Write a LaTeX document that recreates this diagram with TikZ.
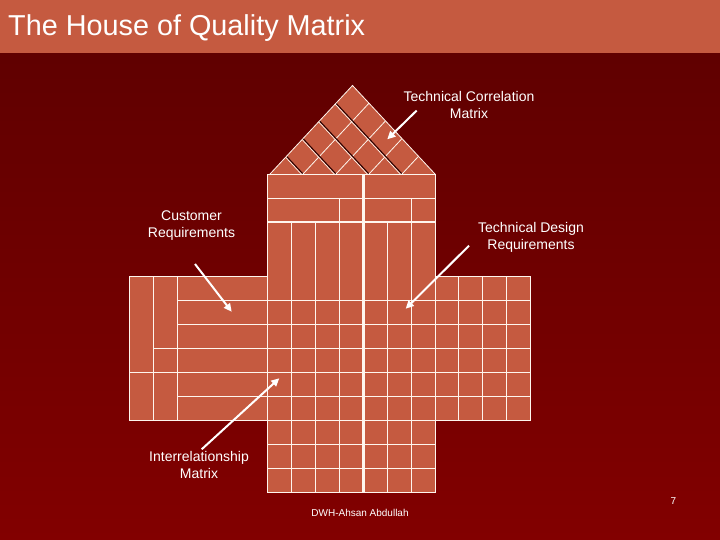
\documentclass[tikz,border=0pt]{standalone}
\usepackage{fontspec}
\setmainfont{Liberation Sans}
\usetikzlibrary{calc,arrows.meta}
\definecolor{bgtop}{HTML}{5C0000}
\definecolor{bgbot}{HTML}{820000}
\definecolor{tile}{HTML}{C55A40}
\definecolor{gridc}{HTML}{FFF6EE}
\definecolor{shadowc}{HTML}{2A0000}
\begin{document}
\begin{tikzpicture}[x=1pt,y=-1pt,
  gridline/.style={draw=gridc, line width=0.9pt},
  thickline/.style={draw=gridc, line width=2.8pt},
  lbl/.style={text=white, font=\fontsize{14}{17}\selectfont, align=center, inner sep=0pt},
  pointer/.style={draw=white, line width=2pt, -{Triangle[length=8pt,width=7.5pt]}}]
\useasboundingbox (0,0) rectangle (720,540);
\shade[top color=bgtop, bottom color=bgbot] (0,0) rectangle (720,540);
\fill[tile] (0,0) rectangle (720,53);
\node[anchor=west, text=white, font=\fontsize{28.8}{32}\selectfont, inner sep=0pt] (title) at (8,28) {The House of Quality Matrix};

% ---- roof ----
\coordinate (L) at (270,174);
\coordinate (R) at (435,174);
\coordinate (A) at (352.5,85.5);
\fill[tile] (L) -- (A) -- (R) -- cycle;
\foreach \f in {0.2,0.4,0.6,0.8}{
  \draw[shadowc, line width=1.1pt] ($(L)!\f!(R)$) -- ($(L)!\f!(A)$);
  \draw[gridc, line width=0.7pt] ($($(L)!\f!(R)$)+(-0.9,0.9)$) -- ($($(L)!\f!(A)$)+(-0.9,0.9)$);
  \draw[gridc, line width=0.8pt] ($(L)!\f!(R)$) -- ($(A)!\f!(R)$);
}
\draw[gridc, line width=0.8pt] (L) -- (A) -- (R);

% ---- house body ----
\fill[tile] (267.5,174) rectangle (435,492.15);
\fill[tile] (129,276.6) rectangle (530.7,420.3);
% outline of cross
\draw[gridline] (267.5,276.6) -- (267.5,174) -- (435,174) -- (435,276.6) -- (530.7,276.6) -- (530.7,420.3)
  -- (435,420.3) -- (435,492.15) -- (267.5,492.15) -- (267.5,420.3) -- (129,420.3) -- (129,276.6) -- cycle;
% upper part
\draw[gridline] (267.5,198) -- (435,198);
\draw[gridline] (339.3,198) -- (339.3,222) (411.1,198) -- (411.1,222);
\foreach \x in {291.4,315.4,339.3,387.1,411.1}{
  \draw[gridline] (\x,222) -- (\x,492.15);
}
\draw[gridline] (267.5,276.6) -- (267.5,420.3) (435,276.6) -- (435,420.3);
% central rows below block
\foreach \y in {444.25,468.2}{
  \draw[gridline] (267.5,\y) -- (435,\y);
}
\draw[gridline] (267.5,420.3) -- (435,420.3);
% block rows
\foreach \y in {300.55,324.5,396.35}{
  \draw[gridline] (177.3,\y) -- (530.7,\y);
}
\draw[gridline] (153.3,348.45) -- (530.7,348.45);
\draw[gridline] (129,372.4) -- (530.7,372.4);
% block columns
\foreach \x in {153.3,177.3,458.9,482.9,506.8}{
  \draw[gridline] (\x,276.6) -- (\x,420.3);
}
% thick lines
\draw[thickline] (267.5,222) -- (435,222);
\draw[thickline] (363.2,174) -- (363.2,492.15);

% ---- labels ----
\node[lbl] (tcm) at (469,105) {Technical Correlation\\Matrix};
\node[lbl] (cr) at (191.5,226) {Customer\\Requirements};
\node[lbl] (tdr) at (531,237) {Technical Design\\Requirements};
\node[lbl] (im) at (199,465) {Interrelationship\\Matrix};
\node[text=white, font=\fontsize{10}{12}\selectfont, inner sep=0pt] (auth) at (360,513) {DWH-Ahsan Abdullah};
\node[text=white, font=\fontsize{10}{12}\selectfont, inner sep=0pt] (pg) at (673.5,501.5) {7};

% ---- arrows ----
\coordinate (tcmS) at (416.7,110.5);
\coordinate (tcmE) at (387.3,139.3);
\coordinate (crS) at (195,264);
\coordinate (crE) at (231.7,311.7);
\coordinate (tdrS) at (469,245.7);
\coordinate (tdrE) at (405.7,308.7);
\coordinate (imS) at (201.7,449.3);
\coordinate (imE) at (279.3,378.3);
\draw[pointer] (tcmS) -- (tcmE);
\draw[pointer] (crS) -- (crE);
\draw[pointer] (tdrS) -- (tdrE);
\draw[pointer] (imS) -- (imE);
\end{tikzpicture}
\end{document}
